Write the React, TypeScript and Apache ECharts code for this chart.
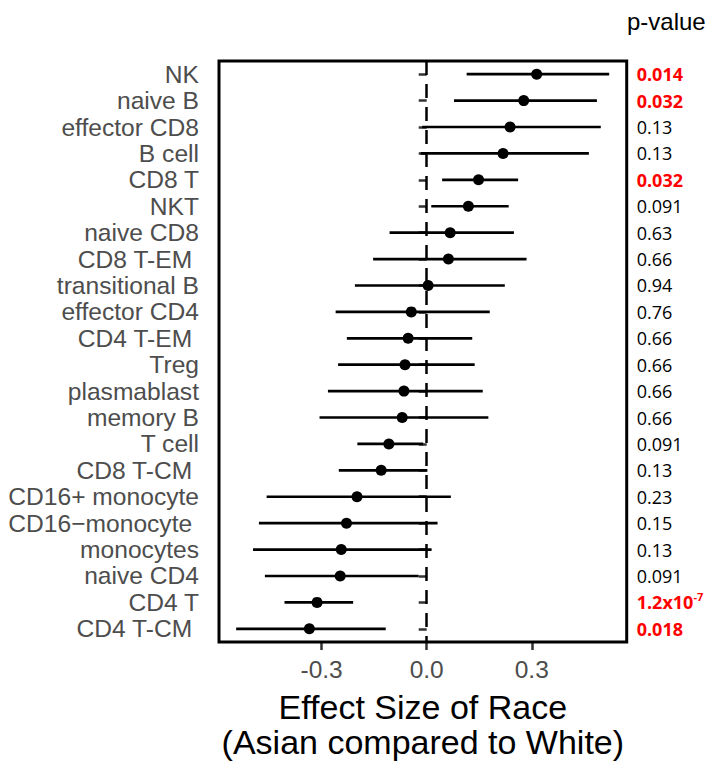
import React, { useEffect, useRef } from "react";
import * as echarts from "echarts";

const categories = [
  "NK", "naive B", "effector CD8", "B cell", "CD8 T", "NKT", "naive CD8", "CD8 T-EM ",
  "transitional B", "effector CD4", "CD4 T-EM ", "Treg", "plasmablast", "memory B",
  "T cell", "CD8 T-CM ", "CD16+ monocyte", "CD16\u2212monocyte ", "monocytes",
  "naive CD4", "CD4 T", "CD4 T-CM ",
];
const estimate = [
  0.314, 0.277, 0.238, 0.218, 0.148, 0.119, 0.067, 0.062, 0.004, -0.044, -0.053,
  -0.062, -0.065, -0.07, -0.108, -0.13, -0.199, -0.229, -0.244, -0.247, -0.313, -0.335,
];
const lower = [
  0.114, 0.078, -0.013, -0.017, 0.044, 0.013, -0.106, -0.153, -0.205, -0.26, -0.228,
  -0.253, -0.282, -0.306, -0.198, -0.251, -0.457, -0.479, -0.496, -0.462, -0.406, -0.544,
];
const upper = [
  0.521, 0.486, 0.497, 0.463, 0.261, 0.234, 0.249, 0.285, 0.223, 0.18, 0.13,
  0.137, 0.16, 0.176, -0.01, 0.002, 0.069, 0.031, 0.014, -0.023, -0.21, -0.117,
];
const pValues = [
  "0.014", "0.032", "0.13", "0.13", "0.032", "0.091", "0.63", "0.66", "0.94", "0.76", "0.66",
  "0.66", "0.66", "0.66", "0.091", "0.13", "0.23", "0.15", "0.13", "0.091", "1.2x10^-7", "0.018",
];
const significant = [
  true, true, false, false, true, false, false, false, false, false, false,
  false, false, false, false, false, false, false, false, false, true, true,
];
const xTicks = [-0.3, 0, 0.3];
const xTitleLines = ["Effect Size of Race", "(Asian compared to White)"];
const pHeader = "p-value";

const SANS = "'Liberation Sans', Arial, Helvetica, sans-serif";
const PFONT = "'Open Sans', 'Noto Sans', sans-serif";

function pLabel(i: number): string {
  const p = pValues[i];
  const st = significant[i] ? "sig" : "ns";
  const parts = p.split("^");
  if (parts.length === 2) return `{${st}|${parts[0]}}{${st}Sup|${parts[1]}}`;
  return `{${st}|${p}}`;
}

export default function App() {
  const ref = useRef<HTMLDivElement>(null);
  useEffect(() => {
    if (!ref.current) return;
    const chart = echarts.init(ref.current, undefined, { renderer: "svg" });
    const errData = categories.map((_, i) => [i, lower[i], upper[i]]);
    const ptData = categories.map((c, i) => [estimate[i], i]);
    chart.setOption({
      animation: false,
      backgroundColor: "#fff",
      grid: {
        left: 219,
        top: 61,
        width: 407.7,
        height: 583.5,
        show: true,
        borderColor: "#000",
        borderWidth: 3,
        backgroundColor: "transparent",
        z: 10,
      },
      graphic: [
        {
          type: "text",
          x: 627,
          y: 21,
          style: {
            text: pHeader,
            font: `24px ${SANS}`,
            fill: "#000",
            verticalAlign: "middle",
            align: "left",
          },
        },
      ],
      xAxis: {
        type: "value",
        min: -0.593,
        max: 0.571,
        splitLine: { show: false },
        axisLine: { show: false },
        axisTick: {
          show: true,
          length: 8,
          lineStyle: { color: "#333", width: 2.5 },
          customValues: xTicks,
        },
        axisLabel: {
          customValues: xTicks,
          formatter: (v: number) => v.toFixed(1),
          fontSize: 24.5,
          lineHeight: 24,
          fontFamily: SANS,
          color: "#4d4d4d",
          margin: 15,
        },
        name: xTitleLines.join("\n"),
        nameLocation: "middle",
        nameGap: 47,
        nameTextStyle: {
          fontSize: 34,
          lineHeight: 35.5,
          fontFamily: SANS,
          color: "#000",
        },
      },
      yAxis: [
        {
          type: "category",
          data: categories,
          inverse: true,
          axisLine: { show: false },
          axisTick: {
            show: true,
            alignWithLabel: true,
            length: 8,
            lineStyle: { color: "#333", width: 2.5 },
          },
          splitLine: { show: false },
          axisLabel: {
            interval: 0,
            fontSize: 24.6,
            fontFamily: SANS,
            color: "#4d4d4d",
            margin: 20,
          },
        },
        {
          type: "category",
          data: categories,
          inverse: true,
          position: "right",
          axisLine: { show: false },
          axisTick: { show: false },
          splitLine: { show: false },
          axisLabel: {
            interval: 0,
            margin: 10,
            align: "left",
            formatter: (_v: string, i: number) => pLabel(i),
            rich: {
              sig: { color: "#ff0000", fontWeight: "bold", fontSize: 18, fontFamily: PFONT, lineHeight: 22 },
              sigSup: { color: "#ff0000", fontWeight: "bold", fontSize: 11, fontFamily: PFONT, verticalAlign: "top" },
              ns: { color: "#000", fontSize: 18, fontFamily: PFONT, lineHeight: 22 },
              nsSup: { color: "#000", fontSize: 11, fontFamily: PFONT, verticalAlign: "top" },
            },
          },
        },
      ],
      series: [
        {
          type: "custom",
          data: errData,
          encode: { x: [1, 2], y: 0 },
          renderItem: (params: any, api: any) => {
            const idx = api.value(0);
            const a = api.coord([api.value(1), idx]);
            const b = api.coord([api.value(2), idx]);
            return {
              type: "line",
              shape: { x1: a[0], y1: a[1], x2: b[0], y2: b[1] },
              style: { stroke: "#000", lineWidth: 2.7 },
            };
          },
          z: 2,
        },
        {
          type: "scatter",
          data: ptData,
          symbol: "circle",
          symbolSize: 11,
          itemStyle: { color: "#000", opacity: 1 },
          z: 3,
          markLine: {
            silent: true,
            symbol: ["none", "none"],
            label: { show: false },
            lineStyle: { color: "#000", width: 2.5, type: [14, 9], opacity: 1 },
            data: [{ xAxis: 0 }],
          },
        },
      ],
    });
    return () => chart.dispose();
  }, []);
  return (
    <div
      ref={ref}
      style={{ position: "absolute", left: 0, top: 0, width: 709, height: 765 }}
    />
  );
}
